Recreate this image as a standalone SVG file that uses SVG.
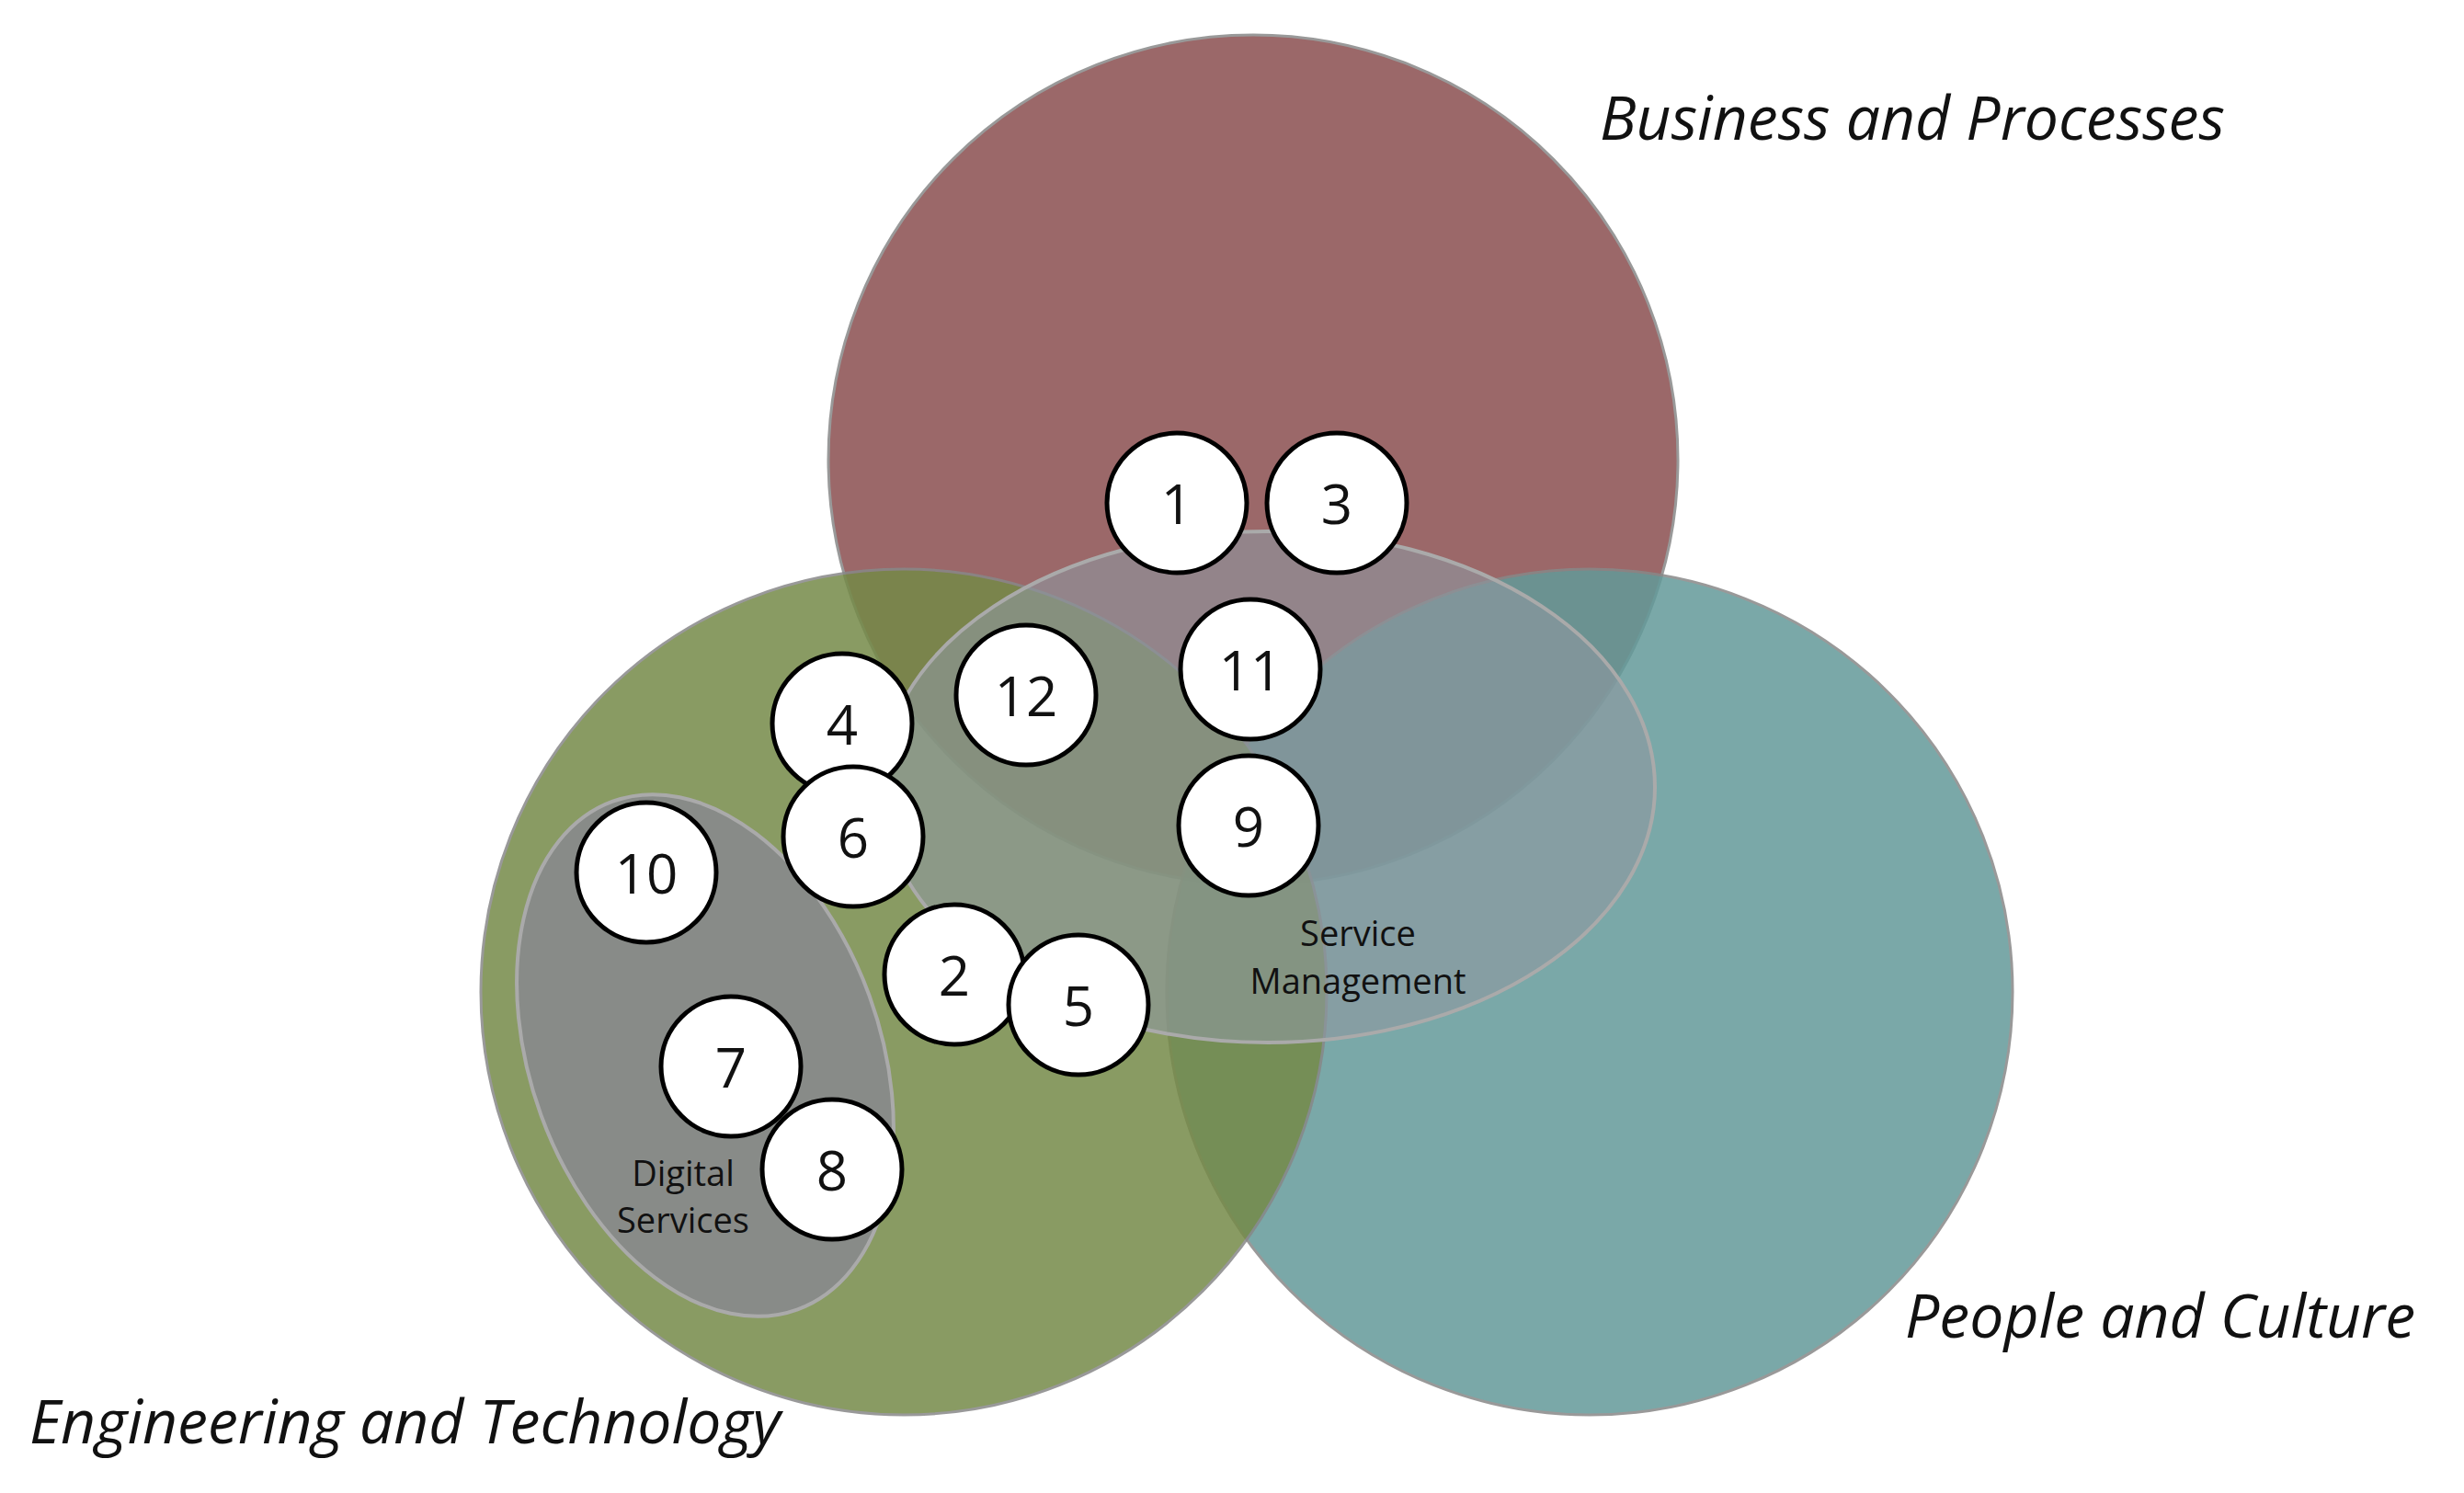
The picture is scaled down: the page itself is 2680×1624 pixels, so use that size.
<svg xmlns="http://www.w3.org/2000/svg" width="2680" height="1624" viewBox="0 0 2680 1624">
<style>
.big{stroke:#888;stroke-width:3;opacity:0.85}
.n circle{fill:#fff;stroke:#000;stroke-width:5}
.n text{font-family:"Open Sans","Liberation Sans",sans-serif;font-size:60px;fill:#111;text-anchor:middle;dominant-baseline:central}
.lab{font-family:"Open Sans","Liberation Sans",sans-serif;font-style:italic;font-size:66px;fill:#111}
.sm{font-family:"Open Sans","Liberation Sans",sans-serif;font-size:38px;fill:#111;text-anchor:middle}
</style>
<rect width="2680" height="1624" fill="#fff"/>
<g transform="translate(-10,-9)">
<g id="business"><circle class="big" cx="1373" cy="509" r="462" fill="#8a4e4f"/></g>
<g id="people"><circle class="big" cx="1739" cy="1088" r="460" fill="#639a99"/></g>
<g id="engineering"><circle class="big" cx="993" cy="1088" r="460" fill="#758a48"/></g>
<g id="service"><ellipse cx="1389" cy="865" rx="421" ry="278" fill="#8e97a0" fill-opacity="0.6" stroke="#aaa" stroke-width="4"/></g>
<g id="digital"><ellipse cx="777" cy="1157" rx="190" ry="294" transform="rotate(-20 777 1157)" fill="#888b88" stroke="#aaa" stroke-width="4"/></g>
<g id="labels">
<text class="sm" x="1487" y="1038">Service</text>
<text class="sm" x="1487" y="1090">Management</text>
<text class="sm" x="753" y="1299">Digital</text>
<text class="sm" x="753" y="1350">Services</text>
</g>
<g id="connectors"></g>
<g id="n1" class="n"><circle cx="1290" cy="556" r="76"/><text x="1290" y="556">1</text></g>
<g id="n3" class="n"><circle cx="1464" cy="556" r="76"/><text x="1464" y="556">3</text></g>
<g id="n11" class="n"><circle cx="1370" cy="737" r="76"/><text x="1370" y="737">11</text></g>
<g id="n12" class="n"><circle cx="1126" cy="765" r="76"/><text x="1126" y="765">12</text></g>
<g id="n4" class="n"><circle cx="926" cy="796" r="76"/><text x="926" y="796">4</text></g>
<g id="n6" class="n"><circle cx="938" cy="919" r="76"/><text x="938" y="919">6</text></g>
<g id="n9" class="n"><circle cx="1368" cy="907" r="76"/><text x="1368" y="907">9</text></g>
<g id="n10" class="n"><circle cx="713" cy="958" r="76"/><text x="713" y="958">10</text></g>
<g id="n2" class="n"><circle cx="1048" cy="1069" r="76"/><text x="1048" y="1069">2</text></g>
<g id="n5" class="n"><circle cx="1183" cy="1102" r="76"/><text x="1183" y="1102">5</text></g>
<g id="n7" class="n"><circle cx="805" cy="1169" r="76"/><text x="805" y="1169">7</text></g>
<g id="n8" class="n"><circle cx="915" cy="1281" r="76"/><text x="915" y="1281">8</text></g>
</g>
<text class="lab" x="1740" y="152">Business and Processes</text>
<text class="lab" x="2072" y="1455">People and Culture</text>
<text class="lab" x="32" y="1570">Engineering and Technology</text>
</svg>
